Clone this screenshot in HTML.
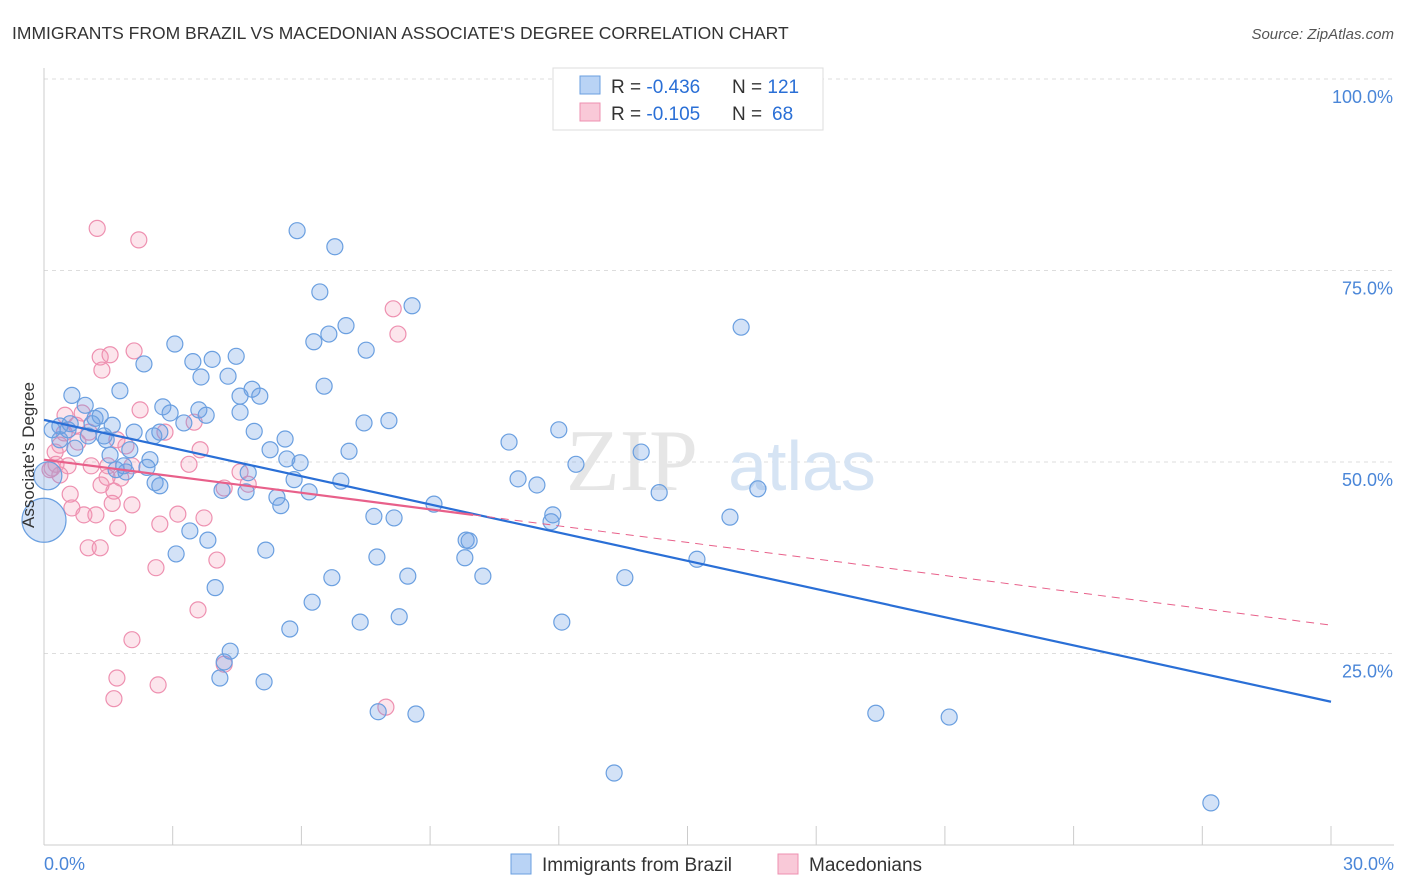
<!DOCTYPE html>
<html><head><meta charset="utf-8"><style>
body{margin:0;background:#fff;font-family:"Liberation Sans",sans-serif}
svg{display:block}
</style></head><body>
<svg width="1406" height="892" xmlns="http://www.w3.org/2000/svg">
<text x="12" y="39" font-size="17.5" fill="#333">IMMIGRANTS FROM BRAZIL VS MACEDONIAN ASSOCIATE'S DEGREE CORRELATION CHART</text>
<text x="1394" y="39" font-size="15" fill="#555" font-style="italic" text-anchor="end">Source: ZipAtlas.com</text>
<g id="grid"></g>
<g><text x="632" y="490" font-family="Liberation Serif" font-size="88" fill="#e6e6e6" text-anchor="middle">ZIP</text><text x="802" y="490" font-size="70" fill="#d6e4f4" text-anchor="middle">atlas</text></g>
<g id="pts"></g>
<g id="lines"></g>
<text transform="translate(34 455) rotate(-90)" font-size="17" fill="#333" text-anchor="middle">Associate's Degree</text>
<g>
<rect x="553" y="68" width="270" height="62" fill="#fff" stroke="#ddd"/>
<rect x="580" y="76" width="20" height="18" fill="#b9d3f5" stroke="#6a9fe0"/>
<rect x="580" y="103" width="20" height="18" fill="#f9c9d8" stroke="#ee90b0"/>
<text x="611" y="93" font-size="19" fill="#333">R = <tspan fill="#2a6fd6">-0.436</tspan><tspan x="732">N = </tspan><tspan fill="#2a6fd6">121</tspan></text>
<text x="611" y="120" font-size="19" fill="#333">R = <tspan fill="#2a6fd6">-0.105</tspan><tspan x="732">N = </tspan><tspan fill="#2a6fd6" x="772">68</tspan></text>
</g>
<g>
<rect x="511" y="854" width="20" height="20" fill="#b9d3f5" stroke="#6a9fe0"/>
<text x="542" y="871" font-size="19" fill="#333">Immigrants from Brazil</text>
<rect x="778" y="854" width="20" height="20" fill="#f9c9d8" stroke="#ee90b0"/>
<text x="809" y="871" font-size="19" fill="#333">Macedonians</text>
</g>
</svg>
<script>
const yTicks=[25,50,75,100];
const xTickLabels=["0.0%","30.0%"];
const blueX=[5.90,6.78,6.43,8.58,7.04,6.64,6.29,7.51,16.25,3.05,3.47,3.92,4.48,2.33,4.29,3.66,6.53,1.77,0.65,4.85,4.57,5.03,0.96,2.77,2.94,3.61,3.78,4.57,1.19,1.31,0.37,0.61,1.12,1.45,2.10,3.26,2.70,2.56,4.90,5.62,7.46,8.04,10.84,12.00,13.92,7.11,5.27,5.66,5.97,1.54,2.00,2.47,1.68,1.91,2.40,2.59,2.70,4.76,4.15,4.71,5.43,5.52,5.83,6.18,6.92,11.05,11.49,12.40,14.34,16.64,9.09,7.69,8.16,11.82,11.86,15.99,3.40,3.82,5.17,3.08,7.76,9.84,9.91,9.81,15.22,6.71,8.48,10.23,13.54,3.99,6.25,7.37,8.28,12.07,5.73,4.34,4.20,4.10,5.13,7.79,8.67,19.39,21.10,13.29,27.20,0.37,0.72,1.59,1.03,1.40,1.86,0.19,0.56];
const blueY=[80.2,78.1,72.2,70.4,67.8,66.7,65.7,64.6,67.6,65.4,63.1,63.4,63.8,62.8,61.2,61.1,59.9,59.3,58.7,59.5,58.6,58.6,57.4,57.2,56.4,56.8,56.1,56.5,55.7,56.0,54.7,55.0,55.0,52.9,53.9,55.1,53.9,53.4,54.0,53.0,55.1,55.4,52.6,54.2,51.3,51.4,51.6,50.4,49.9,50.9,51.6,50.3,49.0,48.7,49.3,47.3,46.9,48.6,46.3,46.1,45.4,44.3,47.7,46.1,47.5,47.8,47.0,49.7,46.0,46.5,44.5,42.9,42.7,42.2,43.1,42.8,41.0,39.8,38.5,38.0,37.6,39.8,39.7,37.5,37.3,34.9,35.1,35.1,34.9,33.6,31.7,29.1,29.8,29.1,28.2,25.3,23.9,21.8,21.3,17.4,17.1,17.2,16.7,9.4,5.5,52.9,51.8,54.8,53.4,53.4,49.5,54.2,54.2];
const blueBigX=[0.09,0.0];
const blueBigY=[48.2,42.4];
const pinkX=[1.24,2.21,8.14,8.25,1.31,1.35,1.54,2.10,0.49,0.89,2.24,0.75,0.47,1.05,0.37,0.79,1.70,1.91,2.82,3.64,3.50,0.26,0.28,0.56,1.10,1.49,1.79,1.63,1.33,1.47,2.05,3.38,4.57,4.76,4.20,0.61,0.65,0.93,1.21,2.05,1.59,3.12,3.73,2.70,1.72,1.03,1.31,4.03,2.61,3.59,2.05,1.70,2.66,1.63,4.20,7.97,0.19,0.37,0.14];
const pinkY=[80.5,79.0,70.0,66.7,63.7,62.0,64.0,64.5,56.1,56.4,56.8,54.8,53.8,53.9,52.2,52.6,52.9,52.1,53.9,51.6,55.2,51.3,49.7,49.5,49.5,49.5,47.9,46.2,47.0,48.0,49.5,49.7,48.7,47.1,46.6,45.8,44.0,43.1,43.1,44.4,44.6,43.2,42.7,41.9,41.4,38.8,38.8,37.2,36.2,30.7,26.8,21.8,20.9,19.1,23.6,18.0,49.2,48.3,49.0];
const blueLine=[55.5,18.7];
const pinkLine=[50.3,28.7];
const pinkSolidEnd=10.0;

const NS="http://www.w3.org/2000/svg";
const sx=v=>44+v/30*1287;
const sy=v=>845-v*7.66;
function mk(tag,attrs,parent){const e=document.createElementNS(NS,tag);for(const k in attrs)e.setAttribute(k,attrs[k]);parent.appendChild(e);return e;}
const grid=document.getElementById('grid');
yTicks.forEach(t=>{
 const l=mk('line',{x1:44,x2:1394,y1:sy(t),y2:sy(t),stroke:'#ddd','stroke-dasharray':'4,4'},grid);
 
 
 const tx=mk('text',{x:1393,y:sy(t)+24,'font-size':18,fill:'#4a86d8','text-anchor':'end'},grid);
 tx.textContent=t.toFixed(1)+'%';
 
 
});
mk('line',{x1:44,x2:44,y1:68,y2:845,stroke:'#ccc'},grid);
mk('line',{x1:44,x2:1394,y1:845,y2:845,stroke:'#ccc'},grid);
for(let i=0;i<=10;i++){const t=mk('line',{x1:sx(i*3),x2:sx(i*3),y1:826,y2:845,stroke:'#ccc'},grid);
 
 }
const xl0=mk('text',{x:44,y:870,'font-size':18,fill:'#4a86d8'},grid);xl0.textContent=xTickLabels[0];


const xl1=mk('text',{x:1394,y:870,'font-size':18,fill:'#4a86d8','text-anchor':'end'},grid);xl1.textContent=xTickLabels[1];


const pts=document.getElementById('pts');
pinkX.forEach((x,i)=>{const c=mk('circle',{cx:sx(x),cy:sy(pinkY[i]),r:8,fill:'rgba(244,150,180,0.25)',stroke:'#ee90b0','stroke-width':1.2},pts);
 
 });
blueX.forEach((x,i)=>{const c=mk('circle',{cx:sx(x),cy:sy(blueY[i]),r:8,fill:'rgba(110,160,230,0.3)',stroke:'#6a9fe0','stroke-width':1.2},pts);
 
 });
blueBigX.forEach((x,i)=>{const c=mk('circle',{cx:sx(x),cy:sy(blueBigY[i]),r:i?22:14,fill:'rgba(110,160,230,0.3)',stroke:'#6a9fe0','stroke-width':1.2},pts);
 
 });
const lines=document.getElementById('lines');
const pAt=x=>pinkLine[0]+(pinkLine[1]-pinkLine[0])*x/30;
const bl=mk('line',{x1:sx(0),y1:sy(blueLine[0]),x2:sx(30),y2:sy(blueLine[1]),stroke:'#2a6fd6','stroke-width':2.2},lines);


const ps=mk('line',{x1:sx(0),y1:sy(pAt(0)),x2:sx(pinkSolidEnd),y2:sy(pAt(pinkSolidEnd)),stroke:'#e8608a','stroke-width':2.2},lines);


const pd=mk('line',{x1:sx(pinkSolidEnd),y1:sy(pAt(pinkSolidEnd)),x2:sx(30),y2:sy(pAt(30)),stroke:'#e8608a','stroke-width':1,'stroke-dasharray':'8,6'},lines);


</script>
</body></html>
